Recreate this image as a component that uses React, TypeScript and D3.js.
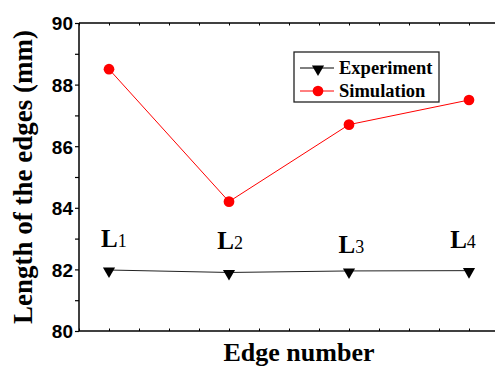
import { useEffect, useRef } from 'react';
import * as d3 from 'd3';

const edges = [1, 2, 3, 4];
const experiment = [81.98, 81.9, 81.95, 81.96];
const simulation = [88.5, 84.2, 86.7, 87.5];
const yTicks = [80, 82, 84, 86, 88, 90];
// edge labels placed in data coordinates
const edgeLabels = [
  { name: 'L', sub: '1', x: 1.04, y: 82.74 },
  { name: 'L', sub: '2', x: 2.01, y: 82.66 },
  { name: 'L', sub: '3', x: 3.02, y: 82.53 },
  { name: 'L', sub: '4', x: 3.95, y: 82.71 },
];
const series = [
  { label: 'Experiment', color: '#000', marker: 'tri' },
  { label: 'Simulation', color: '#ff0000', marker: 'circle' },
];

const W = 495;
const H = 367;

export default function App() {
  const ref = useRef<SVGSVGElement>(null);

  useEffect(() => {
    const svg = d3.select(ref.current);
    svg.selectAll('*').remove();

    const left = 79;
    const top = 23;
    const bottom = 331;

    const x = d3.scaleLinear().domain([0.75, 4.25]).range([left, left + 420]);
    const y = d3.scaleLinear().domain([80, 90]).range([bottom, top]);

    const serif = '"Liberation Serif", "Times New Roman", serif';
    const sans = '"Liberation Sans", Arial, sans-serif';

    // Y axis
    const yAxis = svg
      .append('g')
      .attr('transform', `translate(${left},0)`)
      .call(
        d3
          .axisLeft(y)
          .tickValues(d3.range(80, 90.01, 1))
          .tickSize(4)
          .tickFormat((d) => (yTicks.includes(+d) ? `${d}` : ''))
      );
    yAxis.select('.domain').attr('stroke-width', 1.5).attr('d', `M0,${bottom}V${top}`);
    yAxis.selectAll('line').attr('stroke-width', 1.2);
    yAxis
      .selectAll('text')
      .attr('font-family', sans)
      .attr('font-weight', 'bold')
      .attr('font-size', 19)
      .attr('x', -6)
      .attr('dy', '0.36em');

    const xTickVals = d3.range(0.75, 4.26, 0.25);

    // bottom axis
    const xb = svg
      .append('g')
      .attr('transform', `translate(0,${bottom})`)
      .call(d3.axisBottom(x).tickValues(xTickVals).tickSize(-2.5).tickFormat(() => ''));
    xb.select('.domain').attr('stroke-width', 1.5).attr('d', `M${left},0H${left + 420}`);

    // top axis
    const xt = svg
      .append('g')
      .attr('transform', `translate(0,${top})`)
      .call(d3.axisTop(x).tickValues(xTickVals).tickSize(-2.5).tickFormat(() => ''));
    xt.select('.domain').attr('stroke-width', 1.5).attr('d', `M${left},0H${left + 420}`);

    const line = d3
      .line<number>()
      .x((_, i) => x(edges[i]))
      .y((d) => y(d));

    const tri = d3.symbol().type(d3.symbolTriangle).size(64);
    const circ = d3.symbol().type(d3.symbolCircle).size(90);

    // experiment
    svg
      .append('path')
      .datum(experiment)
      .attr('d', line)
      .attr('fill', 'none')
      .attr('stroke', '#222')
      .attr('stroke-width', 1);
    svg
      .append('g')
      .selectAll('path')
      .data(experiment)
      .join('path')
      .attr('d', tri)
      .attr('transform', (d, i) => `translate(${x(edges[i])},${y(d) + 1}) rotate(180)`)
      .attr('fill', '#000');

    // simulation
    svg
      .append('path')
      .datum(simulation)
      .attr('d', line)
      .attr('fill', 'none')
      .attr('stroke', '#ff0000')
      .attr('stroke-width', 1);
    svg
      .append('g')
      .selectAll('path')
      .data(simulation)
      .join('path')
      .attr('d', circ)
      .attr('transform', (d, i) => `translate(${x(edges[i])},${y(d)})`)
      .attr('fill', '#ff0000');

    // edge labels
    const lab = svg
      .append('g')
      .selectAll('text')
      .data(edgeLabels)
      .join('text')
      .attr('x', (d) => x(d.x))
      .attr('y', (d) => y(d.y))
      .attr('text-anchor', 'middle')
      .attr('font-family', serif)
      .attr('font-weight', 'bold')
      .attr('font-size', 25);
    lab.append('tspan').text((d) => d.name);
    lab
      .append('tspan')
      .attr('font-size', 18)
      .attr('font-weight', 'normal')
      .text((d) => d.sub);

    // legend
    const lg = svg.append('g').attr('transform', 'translate(294,52)');
    lg.append('rect')
      .attr('width', 145)
      .attr('height', 50)
      .attr('fill', '#fff')
      .attr('stroke', '#222')
      .attr('stroke-width', 1.3);
    series.forEach((s, i) => {
      const cy = 16 + i * 23;
      lg.append('line')
        .attr('x1', 6)
        .attr('x2', 40)
        .attr('y1', cy)
        .attr('y2', cy)
        .attr('stroke', s.color)
        .attr('stroke-width', 1);
      lg.append('path')
        .attr('d', s.marker === 'tri' ? tri : circ)
        .attr('transform', s.marker === 'tri' ? `translate(24,${cy + 1}) rotate(180)` : `translate(24,${cy})`)
        .attr('fill', s.color);
      lg.append('text')
        .attr('x', 45)
        .attr('y', cy + 5.5)
        .attr('font-family', serif)
        .attr('font-weight', 'bold')
        .attr('font-size', 18.5)
        .text(s.label);
    });

    // titles
    svg
      .append('text')
      .attr('x', 299)
      .attr('y', 361)
      .attr('text-anchor', 'middle')
      .attr('font-family', serif)
      .attr('font-weight', 'bold')
      .attr('font-size', 26)
      .text('Edge number');

    svg
      .append('text')
      .attr('transform', `translate(32,${(top + bottom) / 2}) rotate(-90)`)
      .attr('text-anchor', 'middle')
      .attr('font-family', serif)
      .attr('font-weight', 'bold')
      .attr('font-size', 27)
      .text('Length of the edges (mm)');
  }, []);

  return (
    <svg
      ref={ref}
      width={W}
      height={H}
      style={{ position: 'absolute', left: 0, top: 0, background: '#fff' }}
    />
  );
}
